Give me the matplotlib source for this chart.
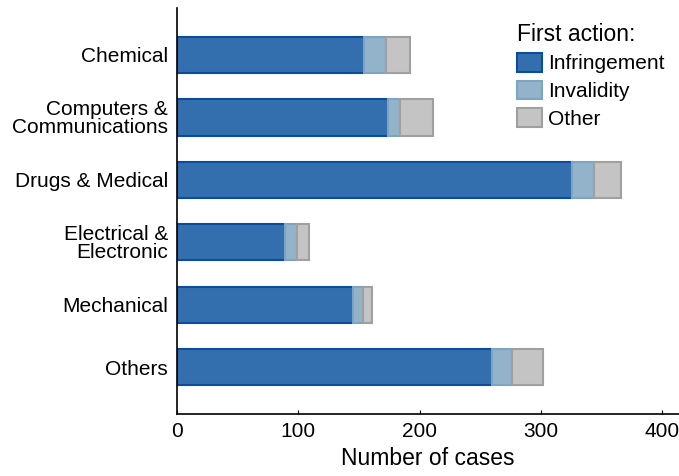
import numpy as np
import matplotlib.pyplot as plt

plt.rcParams['font.family'] = ['Liberation Sans', 'DejaVu Sans']

categories = ['Chemical', 'Computers &\nCommunications', 'Drugs & Medical',
              'Electrical &\nElectronic', 'Mechanical', 'Others']
infringement = [154, 174, 326, 89, 145, 260]
invalidity = [18, 10, 18, 10, 8, 16]
other = [20, 27, 22, 10, 8, 26]

fig = plt.figure(figsize=(6.79, 4.76), dpi=100)
ax = fig.add_axes([0.261, 0.130, 0.739, 0.853])

y = np.arange(len(categories))
h = 0.58
inf = np.array(infringement)
inv = np.array(invalidity)
oth = np.array(other)

ax.barh(y, inf, h, color='#336eae', edgecolor='#0a4d9c', linewidth=1.5,
        label='Infringement')
ax.barh(y, inv, h, left=inf, color='#93b3cb', edgecolor='#7ea4c4',
        linewidth=1.5, label='Invalidity')
ax.barh(y, oth, h, left=inf + inv, color='#c4c4c4', edgecolor='#a0a0a0',
        linewidth=1.5, label='Other')

ax.set_ylim(5.75, -0.75)
ax.set_xlim(0, 414)
ax.set_yticks(y)
ax.set_yticklabels(categories, linespacing=0.9)
ax.set_xticks([0, 100, 200, 300, 400])
ax.tick_params(axis='y', length=0, pad=6.5, labelsize=15)
ax.tick_params(axis='x', direction='in', length=3, pad=6, labelsize=15)
ax.set_xlabel('Number of cases', fontsize=16.5, labelpad=4)

for s in ['top', 'right']:
    ax.spines[s].set_visible(False)
ax.spines['left'].set_linewidth(1.2)
ax.spines['bottom'].set_linewidth(1.2)

leg = ax.legend(title='First action:', loc='upper right',
                bbox_to_anchor=(1.0, 1.0), frameon=False, fontsize=15,
                title_fontsize=16.5, handlelength=1.2, handleheight=1.0,
                handletextpad=0.3, labelspacing=0.35, borderpad=0.2)
leg._legend_box.align = 'left'

fig.savefig('out.png', dpi=100)
